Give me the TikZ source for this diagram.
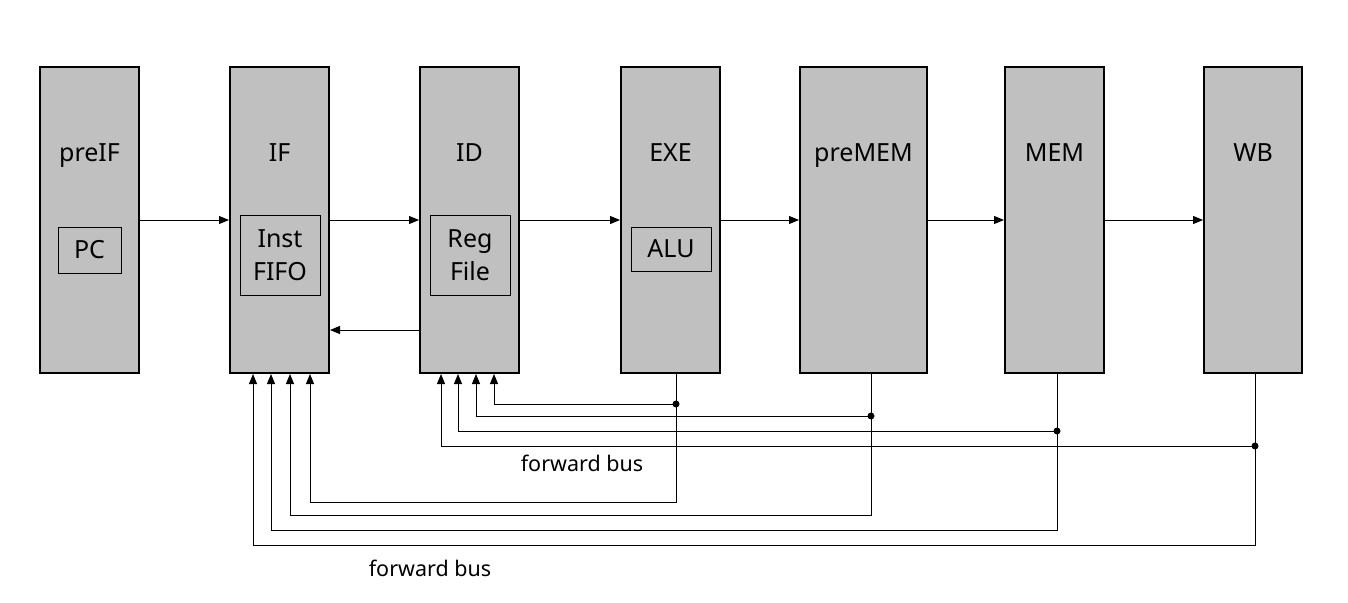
\documentclass[tikz,border=0pt]{standalone}
\usepackage{fontspec}
\setmainfont{Noto Sans}
\usetikzlibrary{arrows.meta,calc}
\definecolor{stagegray}{HTML}{C0C0C0}
\begin{document}
\begin{tikzpicture}[x=1pt,y=-1pt,
  stage/.style={draw,line width=2pt,fill=stagegray,minimum height=306pt,inner sep=0pt},
  unit/.style={draw,line width=1pt,inner sep=0pt,align=center,font=\fontsize{25}{33}\selectfont},
  stagelabel/.style={font=\fontsize{25}{30}\selectfont,inner sep=0pt,anchor=base},
  buslabel/.style={font=\fontsize{21.5}{26}\selectfont,inner sep=0pt},
  conn/.style={line width=1pt,-{Triangle[length=10pt,width=8pt]}},
  wire/.style={line width=1pt},
  tap/.style={circle,fill=black,inner sep=0pt,minimum size=7pt}]
\useasboundingbox (0,0) rectangle (1348,602);
% stages
\node[stage,minimum width=99pt] (preIF) at (89.5,220) {};
\node[stage,minimum width=99pt] (IF) at (279.5,220) {};
\node[stage,minimum width=99pt] (ID) at (469.5,220) {};
\node[stage,minimum width=99pt] (EXE) at (670.5,220) {};
\node[stage,minimum width=127pt] (preMEM) at (863.5,220) {};
\node[stage,minimum width=99pt] (MEM) at (1054.5,220) {};
\node[stage,minimum width=98pt] (WB) at (1253,220) {};
% labels
\node[stagelabel] (lpreIF) at (89.5,161) {preIF};
\node[stagelabel] (lIF) at (279.5,161) {IF};
\node[stagelabel] (lID) at (469.5,161) {ID};
\node[stagelabel] (lEXE) at (670.5,161) {EXE};
\node[stagelabel] (lpreMEM) at (863.5,161) {preMEM};
\node[stagelabel] (lMEM) at (1054.5,161) {MEM};
\node[stagelabel] (lWB) at (1253,161) {WB};
% units
\node[unit,minimum width=63pt,minimum height=46pt] (PC) at (89.5,250) {PC};
\node[unit,minimum width=80pt,minimum height=80pt] (FIFO) at (280,255) {Inst\\FIFO};
\node[unit,minimum width=80pt,minimum height=80pt] (RF) at (470,255) {Reg\\File};
\node[unit,minimum width=80pt,minimum height=44pt] (ALU) at (671,249) {ALU};
% pipeline arrows
\draw[conn] (preIF) -- (IF);
\draw[conn] (IF) -- (ID);
\draw[conn] (ID) -- (EXE);
\draw[conn] (EXE) -- (preMEM);
\draw[conn] (preMEM) -- (MEM);
\draw[conn] (MEM) -- (WB);
\draw[conn] (ID.west |- 0,330) -- (IF.east |- 0,330);
% bus taps
\coordinate (tE) at (EXE.south -| 676,0);
\coordinate (tP) at (preMEM.south -| 871,0);
\coordinate (tM) at (MEM.south -| 1057,0);
\coordinate (tW) at (WB.south -| 1255,0);
% to IF
\draw[conn] (tE) -- (676,502) -| (IF.south -| 310,0);
\draw[conn] (tP) -- (871,515) -| (IF.south -| 290,0);
\draw[conn] (tM) -- (1057,530) -| (IF.south -| 271,0);
\draw[conn] (tW) -- (1255,545) -| (IF.south -| 253,0);
% to ID
\node[tap] (dE) at (676,404) {};
\node[tap] (dP) at (871,416) {};
\node[tap] (dM) at (1057,431) {};
\node[tap] (dW) at (1255,446) {};
\draw[conn] (dE.center) -| (ID.south -| 494,0);
\draw[conn] (dP.center) -| (ID.south -| 476,0);
\draw[conn] (dM.center) -| (ID.south -| 458,0);
\draw[conn] (dW.center) -| (ID.south -| 441,0);
% bus labels
\node[buslabel] (fb1) at (582,463) {forward bus};
\node[buslabel] (fb2) at (430,568) {forward bus};
\end{tikzpicture}
\end{document}
